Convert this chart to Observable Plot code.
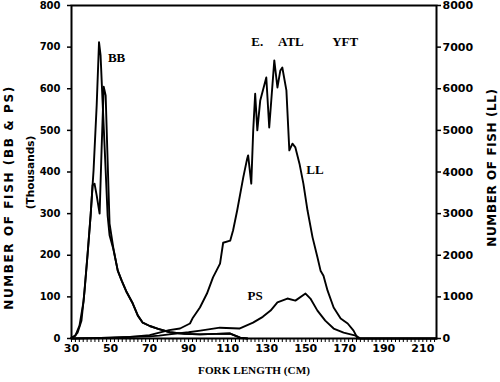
<!DOCTYPE html>
<html><head><meta charset="utf-8">
<script src="https://cdn.jsdelivr.net/npm/d3@7"></script>
<script src="https://cdn.jsdelivr.net/npm/@observablehq/plot@0.6"></script>
<style>
html,body{margin:0;padding:0;background:#fff;}
</style></head><body><div id="chart"></div>
<script>
// Baitboat (two overlapping BB curves), thousands of fish
const bbTallLen = [30, 31.5, 33.1, 35.1, 36.7, 38.2, 39.8, 41.3, 42.9, 44.1, 44.9, 45.9, 47.5, 48.5, 49.5, 51.6, 53.7, 55.7, 58.3, 61.4, 64, 66.5, 70.1, 74.4, 80.4, 88, 95.8, 104, 111.3, 116.4, 120];
const bbTallN   = [2, 5, 14, 43, 115, 200, 296, 404, 560, 712, 680, 572, 404, 296, 248, 212, 163, 139, 111, 84, 55, 38, 30, 23, 15, 11, 10, 11, 12, 2, 0];
const bbTwinLen = [30, 32, 34.1, 36.2, 38.2, 39.8, 40.8, 41.8, 42.9, 44.4, 45.4, 46.5, 47.5, 48.5, 49.5, 51.6, 53.7, 55.7, 58.3, 61.4, 64, 66.5, 70.1, 74.4, 80.4, 88, 95.8, 104, 111.3, 116.4, 120];
const bbTwinN   = [2, 7, 31, 90, 200, 296, 368, 372, 344, 300, 452, 605, 584, 428, 276, 212, 163, 139, 111, 84, 55, 38, 30, 23, 15, 11, 10, 11, 12, 2, 0];
// Purse seine, thousands of fish
const psLen = [30, 40, 50, 60, 70, 75, 80, 90, 96, 106, 116, 123, 128, 132, 135.5, 140.6, 144.7, 149.9, 152.4, 156, 160, 164.3, 169.4, 175.6, 178, 217];
const psN   = [0, 1, 2, 4, 5, 7, 10, 15, 19, 26, 24, 38, 52, 67, 87, 96, 91, 108, 96, 67, 43, 24, 14, 7, 0, 0];
// Longline, number of fish (right axis)
const llLen = [30, 40, 50, 60, 70, 75, 80, 85.6, 90.7, 92.2, 95.8, 99.4, 102.5, 106.1, 107.7, 111.3, 112.8, 114.9, 118, 120, 120.5, 122.1, 123.1, 124.1, 125.2, 126.7, 129.8, 131.3, 133.4, 133.9, 135.5, 137, 138, 140.1, 141.6, 143.2, 144.7, 146.8, 148.8, 150.9, 153.5, 156, 157.6, 159.1, 161.2, 164.3, 167.9, 171.5, 174.5, 176.6, 217];
const llN   = [0, 10, 20, 40, 80, 140, 200, 240, 360, 500, 745, 1080, 1470, 1800, 2300, 2350, 2600, 3080, 3870, 4320, 4400, 3720, 5000, 5880, 5000, 5720, 6270, 5070, 6370, 6680, 6030, 6440, 6510, 5960, 4520, 4680, 4590, 4200, 3720, 3080, 2430, 1950, 1630, 1510, 1150, 745, 480, 360, 190, 0, 0];

const xMajor = [30, 50, 70, 90, 110, 130, 150, 170, 190, 210];
const yLeftTicks = [0, 100, 200, 300, 400, 500, 600, 700, 800];
const llPerLeftUnit = 10; // right axis 0-8000 vs left 0-800

const labelText = ["BB", "E.", "ATL", "YFT", "LL", "PS"];
const labelLen  = [53.1, 125.2, 142.4, 170.2, 154.7, 124.1];
const labelN    = [675, 712, 712, 712, 405, 103];

const leftTitle = "NUMBER OF FISH (BB & PS)";
const leftSub = "(Thousands)";
const rightTitle = "NUMBER OF FISH (LL)";
const xTitle = "FORK LENGTH (CM)";

const idx = a => d3.range(a.length);
const lineOpts = {stroke: "#000", strokeWidth: 1.9, curve: "linear"};

const chart = Plot.plot({
  width: 500, height: 382,
  marginLeft: 71, marginRight: 64, marginTop: 5, marginBottom: 44,
  style: {fontFamily: "DejaVu Sans", fontWeight: "bold", fontSize: "10px", color: "#000", background: "#fff"},
  x: {domain: [30, 217]},
  y: {domain: [0, 800]},
  marks: [
    Plot.line(idx(bbTallLen), {x: i => bbTallLen[i], y: i => bbTallN[i], ...lineOpts}),
    Plot.line(idx(bbTwinLen), {x: i => bbTwinLen[i], y: i => bbTwinN[i], ...lineOpts}),
    Plot.line(idx(psLen), {x: i => psLen[i], y: i => psN[i], ...lineOpts}),
    Plot.line(idx(llLen), {x: i => llLen[i], y: i => llN[i] / llPerLeftUnit, ...lineOpts}),
    Plot.frame({stroke: "#000", strokeWidth: 2}),
    Plot.axisX({ticks: d3.range(30, 217, 2), tickSize: 4, tickFormat: () => "", label: null, strokeWidth: 1}),
    Plot.axisX({ticks: xMajor, tickSize: 0, tickPadding: 6, fontSize: 11, label: null}),
    Plot.axisY({ticks: yLeftTicks, tickSize: 4, tickPadding: 7, fontSize: 10, label: null, strokeWidth: 1.5}),
    Plot.axisY({anchor: "right", ticks: yLeftTicks, tickSize: 4, tickPadding: 2, fontSize: 11, label: null, strokeWidth: 1.5, tickFormat: d => String(d * llPerLeftUnit)}),
    Plot.text(idx(labelText), {x: i => labelLen[i], y: i => labelN[i], text: i => labelText[i], fontFamily: "Liberation Serif", fontWeight: "bold", fontSize: 13}),
    Plot.text([leftTitle], {frameAnchor: "left", textAnchor: "middle", rotate: -90, dx: -62.5, dy: 25.5, fontSize: 12, fontWeight: "bold"}),
    Plot.text([leftSub], {frameAnchor: "left", textAnchor: "middle", rotate: -90, dx: -41, dy: 0.5, fontSize: 10.5, fontWeight: "bold"}),
    Plot.text([rightTitle], {frameAnchor: "right", textAnchor: "middle", rotate: -90, dx: 56, dy: -4.5, fontSize: 12, fontWeight: "bold"}),
    Plot.text([xTitle], {frameAnchor: "bottom", dy: 35, fontFamily: "Liberation Serif", fontWeight: "bold", fontSize: 11.2})
  ]
});
d3.select(chart).selectAll("text").each(function() {
  const t = this.textContent;
  if (t === leftTitle) d3.select(this).style("letter-spacing", "1.6px");
  if (t === rightTitle) d3.select(this).style("letter-spacing", "0.6px");
});
document.getElementById("chart").appendChild(chart);
</script></body></html>
